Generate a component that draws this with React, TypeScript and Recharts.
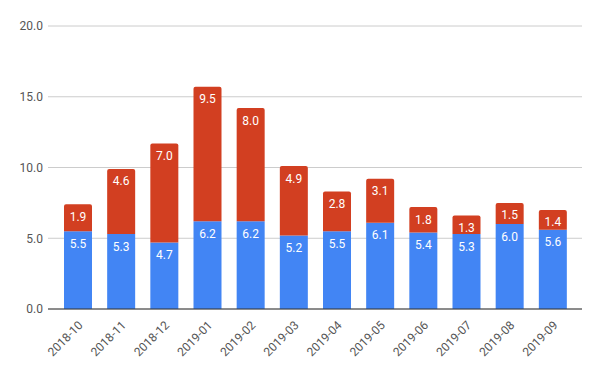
import React from 'react';
import { BarChart, Bar, XAxis, YAxis, CartesianGrid, LabelList } from 'recharts';

const months = [
  '2018-10', '2018-11', '2018-12', '2019-01', '2019-02', '2019-03',
  '2019-04', '2019-05', '2019-06', '2019-07', '2019-08', '2019-09',
];
const blueValues = [5.5, 5.3, 4.7, 6.2, 6.2, 5.2, 5.5, 6.1, 5.4, 5.3, 6.0, 5.6];
const redValues = [1.9, 4.6, 7.0, 9.5, 8.0, 4.9, 2.8, 3.1, 1.8, 1.3, 1.5, 1.4];
const yTicks = [0, 5, 10, 15, 20];

const chartData = months.map((month, i) => ({
  month,
  blue: blueValues[i],
  red: redValues[i],
}));

const fmt = (v: number) => Number(v).toFixed(1);

export default function App() {
  return (
    <div style={{ position: 'absolute', left: 0, top: 0, fontFamily: 'Roboto, sans-serif' }}>
      <BarChart
        width={600}
        height={371}
        data={chartData}
        margin={{ top: 26, right: 18, bottom: 0, left: 0 }}
        barSize={28}
      >
        <CartesianGrid vertical={false} stroke="#cccccc" />
        <XAxis
          dataKey="month"
          height={62}
          padding={{ left: 8, right: 8 }}
          tickLine={false}
          tickMargin={5}
          axisLine={{ stroke: '#333333' }}
          angle={-45}
          textAnchor="end"
          interval={0}
          tick={{ fill: '#555555', fontSize: 12, fontFamily: 'Roboto' }}
        />
        <YAxis
          width={48}
          domain={[0, 20]}
          ticks={yTicks}
          tickFormatter={fmt}
          axisLine={false}
          tickLine={false}
          tickSize={3}
          tickMargin={2}
          tick={{ fill: '#555555', fontSize: 12, fontFamily: 'Roboto' }}
        />
        <Bar dataKey="blue" stackId="a" fill="#4285f4" isAnimationActive={false}>
          <LabelList
            dataKey="blue"
            position="insideTop"
            offset={8}
            formatter={fmt}
            fill="#ffffff"
            fontSize={12}
            fontFamily="Roboto"
          />
        </Bar>
        <Bar dataKey="red" stackId="a" fill="#d23f21" radius={[2, 2, 0, 0]} isAnimationActive={false}>
          <LabelList
            dataKey="red"
            position="insideTop"
            offset={8}
            formatter={fmt}
            fill="#ffffff"
            fontSize={12}
            fontFamily="Roboto"
          />
        </Bar>
      </BarChart>
    </div>
  );
}
